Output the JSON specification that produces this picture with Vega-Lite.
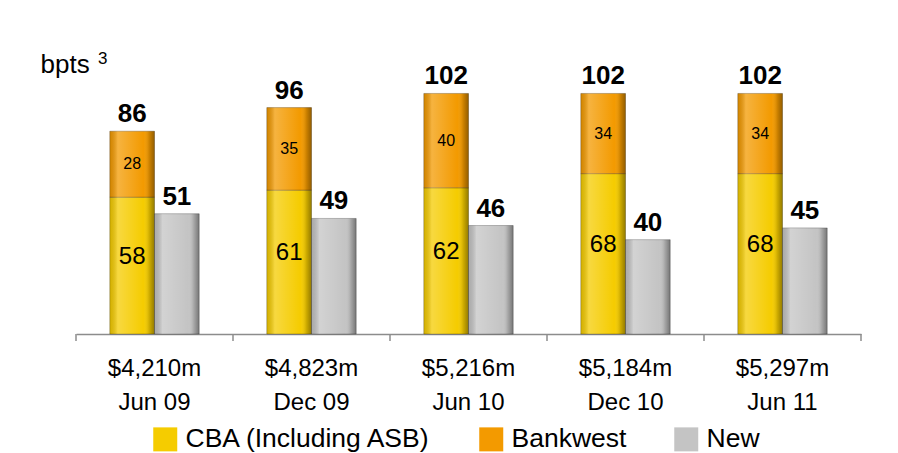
{
  "$schema": "https://vega.github.io/schema/vega-lite/v6.json",
  "width": 785,
  "height": 283,
  "autosize": "none",
  "padding": {"left": 76, "top": 51, "right": 37, "bottom": 119},
  "background": "white",
  "title": {
    "text": "3",
    "frame": "group",
    "anchor": "start",
    "orient": "top",
    "offset": -16,
    "dx": 22,
    "dy": 14,
    "baseline": "alphabetic",
    "fontSize": 17,
    "fontWeight": "normal",
    "color": "#000000"
  },
  "config": {"view": {"stroke": null}, "font": "Liberation Sans"},
  "data": {
    "values": [
      {"period": "$4,210m|Jun 09", "series": "CBA (Including ASB)", "grp": "a", "value": 58},
      {"period": "$4,210m|Jun 09", "series": "Bankwest", "grp": "a", "value": 28},
      {"period": "$4,210m|Jun 09", "series": "New", "grp": "b", "value": 51},
      {"period": "$4,823m|Dec 09", "series": "CBA (Including ASB)", "grp": "a", "value": 61},
      {"period": "$4,823m|Dec 09", "series": "Bankwest", "grp": "a", "value": 35},
      {"period": "$4,823m|Dec 09", "series": "New", "grp": "b", "value": 49},
      {"period": "$5,216m|Jun 10", "series": "CBA (Including ASB)", "grp": "a", "value": 62},
      {"period": "$5,216m|Jun 10", "series": "Bankwest", "grp": "a", "value": 40},
      {"period": "$5,216m|Jun 10", "series": "New", "grp": "b", "value": 46},
      {"period": "$5,184m|Dec 10", "series": "CBA (Including ASB)", "grp": "a", "value": 68},
      {"period": "$5,184m|Dec 10", "series": "Bankwest", "grp": "a", "value": 34},
      {"period": "$5,184m|Dec 10", "series": "New", "grp": "b", "value": 40},
      {"period": "$5,297m|Jun 11", "series": "CBA (Including ASB)", "grp": "a", "value": 68},
      {"period": "$5,297m|Jun 11", "series": "Bankwest", "grp": "a", "value": 34},
      {"period": "$5,297m|Jun 11", "series": "New", "grp": "b", "value": 45}
    ]
  },
  "transform": [
    {"stack": "value", "groupby": ["period", "grp"], "sort": [{"field": "series", "order": "descending"}], "as": ["v0", "v1"]},
    {"calculate": "(datum.v0 + datum.v1) / 2", "as": "mid"}
  ],
  "encoding": {
    "x": {
      "field": "period",
      "type": "nominal",
      "sort": null,
      "scale": {"paddingInner": 0, "paddingOuter": 0},
      "axis": {
        "title": null,
        "labelAngle": 0,
        "labelExpr": "isValid(datum.value) ? split(datum.value, '|') : ''",
        "labelFontSize": 24,
        "labelLineHeight": 34,
        "labelColor": "#000000",
        "labelPadding": 22,
        "domainColor": "#8c8c8c",
        "domainWidth": 1.5,
        "ticks": false,
        "grid": false
      }
    }
  },
  "layer": [
    {
      "mark": {"type": "bar", "stroke": "#000000", "strokeOpacity": 0.25, "strokeWidth": 1},
      "encoding": {
        "xOffset": {"field": "grp", "type": "nominal", "scale": {"paddingInner": 0, "paddingOuter": 0.756}},
        "y": {
          "field": "v1",
          "type": "quantitative",
          "scale": {"domain": [0, 120]},
          "axis": {
            "title": "bpts",
            "titleAngle": 0,
            "titleX": -36,
            "titleY": 21,
            "titleAlign": "left",
            "titleBaseline": "alphabetic",
            "titleFontSize": 26,
            "titleFontWeight": "normal",
            "titleColor": "#000000",
            "domain": false,
            "ticks": false,
            "labels": false,
            "grid": false
          }
        },
        "y2": {"field": "v0"},
        "color": {
          "field": "series",
          "type": "nominal",
          "scale": {
            "domain": ["CBA (Including ASB)", "Bankwest", "New"],
            "range": ["#F5CC00", "#F39A00", "#C4C4C4"]
          },
          "legend": {
            "title": null,
            "orient": "none",
            "legendX": 76,
            "legendY": 375,
            "direction": "horizontal",
            "symbolType": "square",
            "symbolSize": 576,
            "symbolStrokeWidth": 0,
            "labelFontSize": 26.5,
            "labelColor": "#000000",
            "labelOffset": 7,
            "columnPadding": 46,
            "labelLimit": 400
          }
        }
      }
    },
    {
      "mark": {
        "type": "bar",
        "fill": {
          "gradient": "linear",
          "x1": 0, "x2": 1, "y1": 0, "y2": 0,
          "stops": [
            {"offset": 0, "color": "rgba(0,0,0,0.12)"},
            {"offset": 0.18, "color": "rgba(255,255,255,0.25)"},
            {"offset": 0.75, "color": "rgba(255,255,255,0.0)"},
            {"offset": 0.88, "color": "rgba(0,0,0,0.15)"},
            {"offset": 1, "color": "rgba(0,0,0,0.4)"}
          ]
        }
      },
      "encoding": {
        "xOffset": {"field": "grp", "type": "nominal"},
        "y": {"field": "v1", "type": "quantitative"},
        "y2": {"field": "v0"}
      }
    },
    {
      "transform": [{"filter": "datum.series === 'New'"}],
      "mark": {"type": "rule", "color": "#8c8c8c", "strokeWidth": 1.5},
      "encoding": {
        "x": {"field": "period", "type": "nominal", "sort": null, "bandPosition": 0},
        "y": {"datum": 0},
        "y2": {"datum": -3}
      }
    },
    {
      "transform": [{"filter": "datum.series === 'New' && datum.period === '$5,297m|Jun 11'"}],
      "mark": {"type": "rule", "color": "#8c8c8c", "strokeWidth": 1.5},
      "encoding": {
        "x": {"field": "period", "type": "nominal", "sort": null, "bandPosition": 1},
        "y": {"datum": 0},
        "y2": {"datum": -3}
      }
    },
    {
      "transform": [{"filter": "datum.series !== 'CBA (Including ASB)'"}],
      "mark": {"type": "text", "fontSize": 26, "fontWeight": "bold", "baseline": "alphabetic", "dy": -9, "color": "#000000"},
      "encoding": {
        "xOffset": {"field": "grp", "type": "nominal"},
        "y": {"field": "v1", "type": "quantitative"},
        "text": {"field": "v1", "type": "quantitative"}
      }
    },
    {
      "transform": [{"filter": "datum.series === 'CBA (Including ASB)'"}],
      "mark": {"type": "text", "fontSize": 24, "baseline": "middle", "dy": -9, "color": "#000000"},
      "encoding": {
        "xOffset": {"field": "grp", "type": "nominal"},
        "y": {"field": "mid", "type": "quantitative"},
        "text": {"field": "value", "type": "quantitative"}
      }
    },
    {
      "transform": [{"filter": "datum.series === 'Bankwest'"}],
      "mark": {"type": "text", "fontSize": 16, "baseline": "middle", "color": "#000000"},
      "encoding": {
        "xOffset": {"field": "grp", "type": "nominal"},
        "y": {"field": "mid", "type": "quantitative"},
        "text": {"field": "value", "type": "quantitative"}
      }
    }
  ]
}
